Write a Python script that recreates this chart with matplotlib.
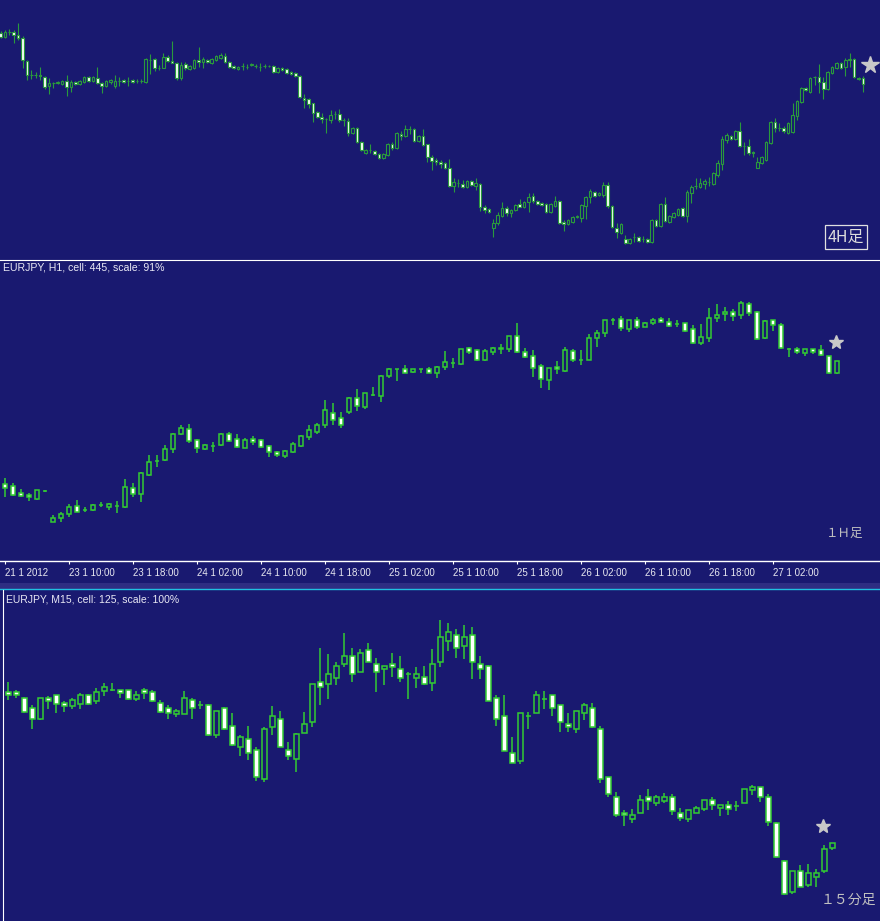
import numpy as np
import matplotlib
matplotlib.use('Agg')
import matplotlib.pyplot as plt
from matplotlib.lines import Line2D
from matplotlib.patches import Rectangle

# ---- 4H candles (price in chart units, higher = up) ----
h4_open = [227,223,228,228,225,222,199,185,185,185,
           183,174,177,177,176,179,173,178,176,178,
           183,179,182,177,174,178,174,179,180,179,
           180,179,179,178,200,201,192,192,203,199,
           197,182,196,191,192,200,198,200,197,200,
           202,204,198,194,191,194,193,195,194,193,
           194,194,194,188,192,191,188,187,184,162,
           161,157,148,143,141,140,146,146,140,139,
           127,132,118,107,110,109,106,102,105,116,
           112,126,124,131,131,119,124,116,103,100,
           98,97,92,74,77,76,73,79,74,76,
           53,51,32,37,44,52,47,50,56,53,
           58,64,59,57,56,48,54,59,38,36,
           38,43,42,54,63,68,65,65,75,54,
           32,27,21,17,23,23,21,21,18,40,
           34,56,38,43,45,52,44,67,74,73,
           76,78,76,85,96,120,124,121,129,114,
           114,108,92,97,100,117,138,132,132,127,
           128,144,158,172,168,183,183,178,171,187,
           192,197,193,200,201,182,182]
h4_high = [229,230,231,230,237,224,200,190,188,193,
           184,182,178,179,180,185,180,179,180,184,
           184,184,193,178,180,181,185,183,181,183,
           181,181,181,202,206,202,195,207,205,219,
           198,198,198,195,201,213,203,201,202,205,
           207,207,199,195,194,197,196,197,196,197,
           196,195,195,193,193,192,189,188,185,166,
           162,157,149,147,142,150,149,151,142,142,
           133,133,119,111,116,110,107,107,117,118,
           128,129,135,134,132,125,131,116,105,102,
           100,98,101,82,81,80,80,80,82,77,
           55,52,41,48,58,54,51,56,61,59,
           67,67,60,58,57,57,64,60,40,41,
           44,45,56,64,71,69,68,78,78,55,
           37,37,25,22,27,24,24,22,41,41,
           57,63,45,48,52,53,70,75,82,82,
           81,83,88,100,124,127,125,130,138,118,
           121,109,103,104,119,139,142,137,134,138,
           157,160,173,173,183,184,196,183,189,194,
           198,198,202,207,202,183,184]
h4_low = [222,222,225,217,220,192,180,181,182,180,
          171,166,172,176,175,164,168,175,175,177,
          178,178,176,167,173,176,172,174,177,174,
          177,177,177,177,186,189,190,192,198,197,
          180,180,190,190,191,193,192,197,196,199,
          201,197,192,191,190,190,191,194,192,189,
          192,193,187,187,189,186,185,183,162,152,
          152,138,142,137,127,137,141,138,134,124,
          126,117,109,106,107,105,101,101,104,110,
          111,120,123,126,118,118,114,98,90,95,
          92,91,73,68,73,72,72,74,70,49,
          47,47,23,35,43,44,43,49,53,52,
          48,57,55,54,47,47,53,36,29,35,
          37,42,38,41,57,63,64,63,52,32,
          22,26,16,16,18,18,18,17,17,33,
          33,38,37,42,44,43,38,57,71,72,
          71,74,75,83,90,117,120,120,113,105,
          105,103,92,96,99,116,128,129,127,126,
          127,140,157,169,167,175,167,161,170,186,
          191,191,184,193,182,180,168]
h4_close = [223,228,228,225,222,200,185,185,185,184,
            173,177,177,178,179,173,178,176,179,183,
            179,183,177,174,179,180,179,179,178,179,
            178,179,179,201,200,192,192,203,199,197,
            182,195,192,194,200,198,201,198,201,204,
            205,198,193,192,193,194,193,196,194,193,
            194,194,188,192,190,187,186,184,163,160,
            156,147,143,141,141,145,146,140,140,127,
            132,118,110,110,110,106,102,106,116,112,
            127,124,131,131,119,124,115,103,99,98,
            96,92,74,78,77,73,79,75,77,53,
            50,48,37,45,52,47,50,55,53,58,
            63,59,56,55,48,56,59,37,36,40,
            43,44,55,63,69,64,67,75,54,33,
            28,36,17,21,23,19,21,18,40,34,
            56,39,44,47,51,44,68,73,74,77,
            79,78,87,97,121,125,121,129,114,114,
            107,107,98,103,118,138,132,132,129,137,
            145,159,172,170,182,183,178,171,188,193,
            197,192,200,201,183,181,176]

# ---- 1H candles ----
h1_open = [77,75,68,66,62,70,39,43,47,55,
           51,51,56,54,55,54,73,67,86,100,
           101,112,127,132,121,112,115,116,127,122,
           113,122,121,115,109,105,109,115,124,129,
           136,148,143,149,163,154,166,165,185,192,
           192,189,192,192,188,194,198,197,213,211,
           201,209,213,212,225,209,205,195,181,194,
           190,210,201,201,223,228,241,242,232,241,
           234,238,242,239,237,238,232,218,223,243,
           247,249,246,257,249,223,241,236,212,212,
           208,212,211,205,188]
h1_high = [83,78,72,68,71,71,46,49,57,61,
           54,57,59,58,60,82,78,89,106,106,
           116,128,136,137,122,117,119,128,129,127,
           123,125,122,116,110,111,119,126,136,138,
           161,158,149,164,172,168,174,186,193,192,
           196,192,192,194,195,210,203,212,214,212,
           212,214,217,225,238,213,211,197,193,200,
           214,212,211,227,231,241,243,245,241,244,
           239,243,244,243,241,238,236,237,253,257,
           254,252,260,259,250,241,241,238,213,214,
           212,212,216,205,200]
h1_low = [64,65,64,60,61,69,39,39,44,49,
          49,50,54,51,48,53,64,59,85,94,
          100,108,126,118,108,111,109,115,119,113,
          113,116,113,104,104,103,108,114,121,127,
          133,136,133,147,150,152,165,159,183,180,
          188,188,188,188,183,191,193,196,207,200,
          200,206,207,209,208,203,184,173,171,187,
          189,199,196,201,214,224,236,230,229,232,
          234,236,239,234,234,229,217,216,219,239,
          240,240,242,245,221,222,230,212,204,207,
          205,207,205,187,187]
h1_close = [73,66,65,64,71,70,43,47,54,49,
            51,56,56,57,55,74,67,88,99,100,
            112,127,133,120,113,116,115,127,120,114,
            121,119,114,109,106,110,117,125,131,136,
            151,141,136,163,155,168,166,185,192,192,
            188,192,192,188,194,199,198,212,209,201,
            210,213,212,225,209,204,193,182,193,192,
            211,201,201,223,228,241,241,233,241,234,
            238,241,239,235,237,230,218,224,243,246,
            249,245,258,248,222,240,236,213,212,209,
            212,209,206,188,200]

h1_tick_pos = [0, 8, 16, 24, 32, 40, 48, 56, 64, 72, 80, 88, 96]
h1_tick_labels = ['21 1 2012', '23 1 10:00', '23 1 18:00', '24 1 02:00',
                  '24 1 10:00', '24 1 18:00', '25 1 02:00', '25 1 10:00',
                  '25 1 18:00', '26 1 02:00', '26 1 10:00', '26 1 18:00',
                  '27 1 02:00']

# ---- 15M candles ----
m15_open = [229,229,223,213,202,223,226,218,215,217,
            226,220,230,231,231,231,222,231,229,218,
            213,207,207,221,216,216,186,213,195,174,
            182,171,142,194,202,171,162,188,199,239,
            237,243,257,265,249,271,257,252,257,252,
            247,243,244,238,259,280,286,275,286,257,
            255,223,205,168,160,205,208,222,226,216,
            197,192,208,213,192,144,124,108,102,108,
            124,118,120,124,108,102,108,112,121,113,
            116,115,118,131,134,124,98,60,29,50,
            36,44,50,73]
m15_high = [239,231,224,216,223,225,226,220,223,228,
            227,233,238,238,231,231,230,233,231,221,
            216,212,230,223,220,217,210,214,208,186,
            195,174,194,215,210,179,188,209,237,273,
            267,259,288,273,272,278,263,255,268,265,
            249,254,255,272,301,298,292,296,294,265,
            256,226,226,184,208,209,230,230,226,216,
            208,210,218,218,195,144,129,111,112,126,
            132,126,128,127,113,111,115,121,124,116,
            120,120,132,136,134,127,99,61,50,56,
            57,52,76,78]
m15_low = [221,223,208,192,201,212,208,209,212,212,
           216,217,225,230,223,221,220,222,219,208,
           202,204,207,202,212,185,183,191,175,165,
           161,140,139,186,174,161,149,188,194,216,
           222,236,254,239,249,259,229,236,244,239,
           222,233,236,230,254,270,263,262,242,242,
           220,195,170,158,157,192,208,212,205,189,
           189,188,201,193,138,124,104,95,98,108,
           111,115,118,106,100,99,108,110,111,105,
           106,110,118,126,119,95,63,26,27,34,
           34,34,48,71]
m15_close = [226,226,209,202,223,220,217,215,221,226,
             217,229,234,231,228,222,226,228,220,209,
             208,210,223,213,216,186,210,192,176,184,
             168,144,192,205,174,165,187,197,237,234,
             247,255,265,247,268,259,249,255,254,243,
             247,247,237,257,284,289,273,284,259,252,
             220,202,170,158,208,205,226,222,213,199,
             194,210,216,194,142,127,106,106,106,121,
             120,124,124,110,103,111,113,121,116,116,
             112,115,132,134,124,99,64,27,50,34,
             48,48,72,78]

# star markers (candle index, price)
star_h4 = (197.6, 195)
star_h1 = (103.9, 219)
star_m15 = (101.8, 95)

BG = '#191970'
W, H = 880, 921


def fx(px):
    return px / W


def fy(py):
    return 1 - py / H


fig = plt.figure(figsize=(8.8, 9.21), dpi=100, facecolor=BG)


def panel(top, bottom, ymax, xlim):
    ax = fig.add_axes([0, fy(bottom), 1, (bottom - top) / H])
    ax.set_facecolor(BG)
    ax.set_xlim(*xlim)
    ax.set_ylim(0, ymax)
    for s in ax.spines.values():
        s.set_visible(False)
    ax.set_xticks([])
    ax.set_yticks([])
    return ax


def draw_candles(ax, o, h, l, c, width, edge, white, lw):
    o, h, l, c = map(np.asarray, (o, h, l, c))
    x = np.arange(len(o))
    ax.vlines(x, l, h, color=edge, linewidth=lw, zorder=2)
    face = np.where(c > o, BG, white)
    ax.bar(x, np.abs(c - o), width, bottom=np.minimum(o, c), color=face,
           edgecolor=edge, linewidth=lw, zorder=3)


ax1 = panel(0, 260, 260, (-0.12, 199.88))
ax2 = panel(261, 561, 300, (-0.625, 109.375))
ax3 = panel(590, 921, 331, (-1.04, 108.96))

draw_candles(ax1, h4_open, h4_high, h4_low, h4_close, 0.62, '#2a9a3c', '#f4fff4', 0.8)
draw_candles(ax2, h1_open, h1_high, h1_low, h1_close, 0.58, '#32cd32', 'white', 1.1)
draw_candles(ax3, m15_open, m15_high, m15_low, m15_close, 0.58, '#32cd32', 'white', 1.1)

for ax, st, ms in ((ax1, star_h4, 13), (ax2, star_h1, 10), (ax3, star_m15, 10)):
    ax.plot(*st, marker='*', ms=ms, color='#c8c8c8', mec='#c8c8c8', zorder=5)

# time axis under the 1H panel
ax2.spines['bottom'].set_visible(True)
ax2.spines['bottom'].set_color('white')
ax2.spines['bottom'].set_linewidth(1)
ax2.set_xticks(h1_tick_pos)
ax2.set_xticklabels(h1_tick_labels, ha='left', fontsize=7, color='#e8e8f0',
                    family=['Liberation Sans Narrow', 'Liberation Sans'])
ax2.tick_params(axis='x', direction='out', length=2.5, width=0.8,
                color='white', pad=2.5)

# separators and band
fig.add_artist(Line2D([0, 1], [fy(260.5), fy(260.5)], color='white', lw=0.8))
fig.add_artist(Rectangle((0, fy(589)), 1, 6 / H, color='#2e2e82', lw=0))
fig.add_artist(Line2D([0, 1], [fy(589.5), fy(589.5)], color='#20c0e0', lw=1))
fig.add_artist(Line2D([fx(2.5), fx(2.5)], [fy(590), 0], color='white', lw=0.8))

# panel captions
fig.text(fx(3), fy(268), 'EURJPY, H1, cell: 445, scale: 91%', fontsize=7.6,
         color='#e8e8f4', va='center', family='Liberation Sans')
fig.text(fx(6), fy(599), 'EURJPY, M15, cell: 125, scale: 100%', fontsize=7.5,
         color='#e8e8f4', va='center', family=['Liberation Sans Narrow', 'Liberation Sans'])

jp = ['Noto Sans CJK JP', 'DejaVu Sans']
fig.text(fx(846), fy(237), '4H足', fontsize=11.5, color='#dcdcdc', ha='center',
         va='center', family=jp,
         bbox=dict(boxstyle='square,pad=0.2', fc='none', ec='#e0e0e0', lw=0.9))
fig.text(fx(845), fy(533), '１Ｈ足', fontsize=9, color='#c0c0c0', ha='center',
         va='center', family=jp)
fig.text(fx(848), fy(900), '１５分足', fontsize=10, color='#c0c0c0', ha='center',
         va='center', family=jp)

fig.savefig('out.png', dpi=100, facecolor=BG)
